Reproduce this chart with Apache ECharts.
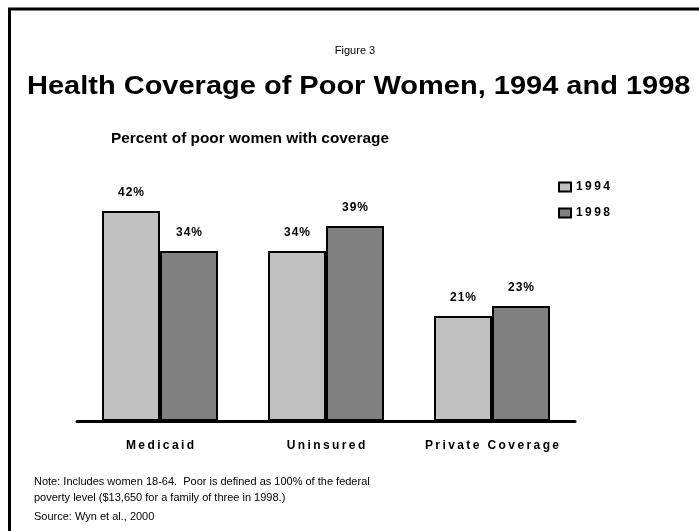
<!DOCTYPE html>
<html><head><meta charset="utf-8">
<script src="https://cdn.jsdelivr.net/npm/echarts@6/dist/echarts.min.js"></script>
<style>html,body{margin:0;padding:0;background:#fff}#c{width:699px;height:531px}</style>
</head><body><div id="c"></div>
<script>
const categories = ['Medicaid', 'Uninsured', 'Private Coverage'];
const seriesNames = ['1994', '1998'];
const values1994 = [42, 34, 21];
const values1998 = [34, 39, 23];
const figureLabel = 'Figure 3';
const titleText = 'Health Coverage of Poor Women, 1994 and 1998';
const subtitleText = 'Percent of poor women with coverage';
const noteLines = ['Note: Includes women 18-64.  Poor is defined as 100% of the federal', 'poverty level ($13,650 for a family of three in 1998.)'];
const sourceText = 'Source: Wyn et al., 2000';

const FONT = '"Liberation Sans", Arial, sans-serif';
const spaced = (s, sp) => s.split('').join(sp);
const chart = echarts.init(document.getElementById('c'), null, {renderer: 'canvas'});
const labelStyle = {show: true, position: 'top', distance: 12,
  formatter: p => spaced(p.value + '%', '\u200a'),
  color: '#000', fontFamily: FONT, fontWeight: 'bold', fontSize: 12};
chart.setOption({
  animation: false,
  backgroundColor: '#fff',
  title: [
    {text: figureLabel, left: 350, top: 40, textAlign: 'center', textStyle: {fontFamily: FONT, fontSize: 11, fontWeight: 'normal', color: '#000'}},
    {text: subtitleText, left: 106, top: 126, textStyle: {fontFamily: FONT, fontSize: 15.4, fontWeight: 'bold', color: '#000'}}
  ],
  legend: {
    orient: 'vertical', left: 553, top: 176, itemWidth: 12, itemHeight: 9, itemGap: 14,
    icon: 'rect',
    itemStyle: {borderColor: '#000', borderWidth: 2},
    textStyle: {fontFamily: FONT, fontWeight: 'bold', fontSize: 12, color: '#000'},
    formatter: n => spaced(n, '\u2009'),
    data: seriesNames
  },
  grid: {left: 77, right: 124, top: 171, bottom: 110},
  xAxis: {
    type: 'category', data: categories,
    axisLine: {lineStyle: {color: '#000', width: 3}},
    axisTick: {show: false},
    axisLabel: {interval: 0, margin: 19, color: '#000', fontFamily: FONT, fontWeight: 'bold', fontSize: 12,
      formatter: v => spaced(v, '\u2009')}
  },
  yAxis: {type: 'value', min: 0, max: 50, show: false, splitLine: {show: false}},
  series: [
    {name: seriesNames[0], type: 'bar', data: values1994, barWidth: 58, barGap: '0%',
     itemStyle: {color: '#c0c0c0', borderColor: '#000', borderWidth: 2}, label: labelStyle},
    {name: seriesNames[1], type: 'bar', data: values1998, barWidth: 58,
     itemStyle: {color: '#808080', borderColor: '#000', borderWidth: 2}, label: labelStyle}
  ],
  graphic: [
    {type: 'line', shape: {x1: 8, y1: 9, x2: 699, y2: 9}, style: {stroke: '#000', lineWidth: 3}},
    {type: 'line', shape: {x1: 9.5, y1: 8, x2: 9.5, y2: 531}, style: {stroke: '#000', lineWidth: 3}},
    {type: 'text', x: 27, y: 87, scaleX: 1.16, style: {text: titleText, font: 'bold 25px ' + FONT, fill: '#000', align: 'left', verticalAlign: 'middle'}},
    {type: 'text', x: 34, y: 474, style: {text: noteLines.join('\n'), lineHeight: 16, font: '11px ' + FONT, fill: '#000'}},
    {type: 'text', x: 34, y: 511, style: {text: sourceText, font: '11px ' + FONT, fill: '#000'}}
  ]
});
</script></body></html>
